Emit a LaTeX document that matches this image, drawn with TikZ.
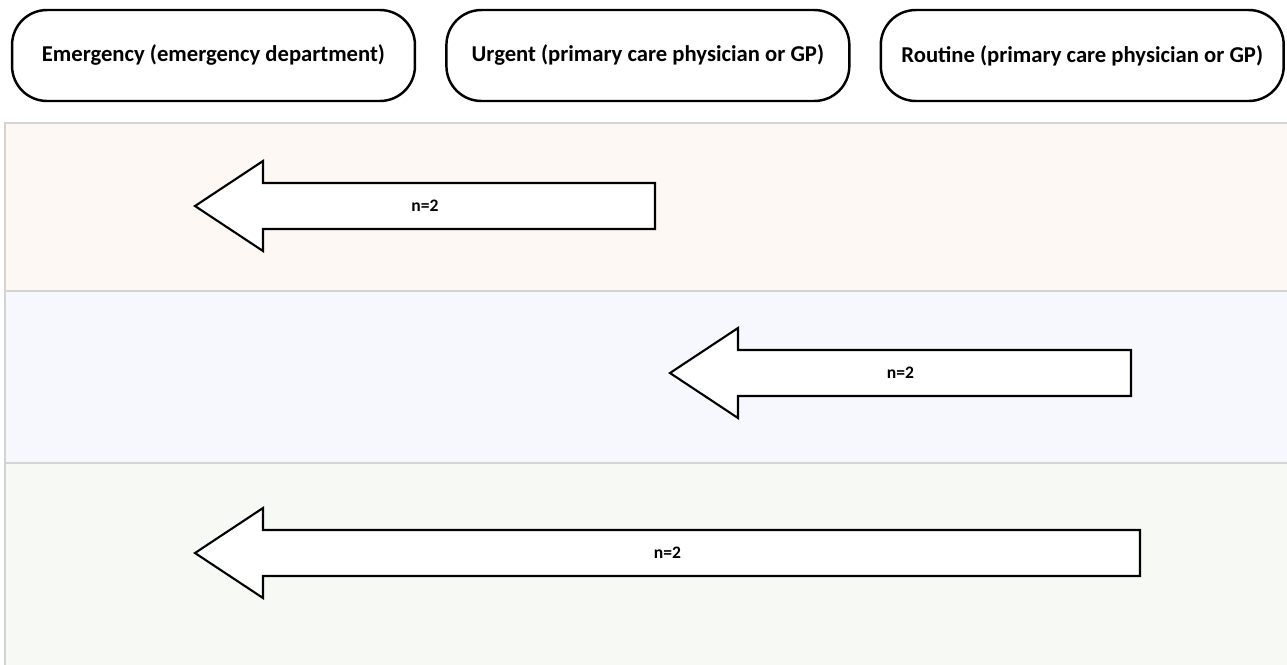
\documentclass[tikz,border=0pt]{standalone}
\usepackage{fontspec}
\setmainfont{Carlito}
\usetikzlibrary{positioning}

\definecolor{bandpeach}{HTML}{FEF8F4}
\definecolor{bandblue}{HTML}{F7F8FD}
\definecolor{bandgreen}{HTML}{F7FAF4}
\definecolor{bandline}{HTML}{D4D4D4}

\begin{document}
\begin{tikzpicture}[
x=0.02cm, y=-0.02cm,
every node/.style={
    font=\bfseries\fontsize{12.9}{15}\selectfont,
    },
pill/.style={
    draw,
    line width=1.4pt,
    rounded corners=0.7cm,
    minimum width=8.06cm,
    minimum height=1.82cm,
    },
band/.style={
    draw=bandline,
    line width=0.8pt,
    },
bigarrow/.style={
    draw,
    fill=white,
    line width=1.2pt,
    line join=miter,
    },
count/.style={
    font=\bfseries\fontsize{10}{12}\selectfont,
    },
]
\useasboundingbox (0,0) rectangle (1287,664);

% swimlanes
\draw[band, fill=bandpeach] (5,123) rectangle (1290,291);
\draw[band, fill=bandblue]  (5,291) rectangle (1290,463);
\draw[band, fill=bandgreen] (5,463) rectangle (1290,668);

% care levels
\node[pill] (emerg) at (213.5,55.5) {Emergency (emergency department)};
\node[pill] (urgent) [right=0.58cm of emerg] {Urgent (primary care physician or GP)};
\node[pill] (routine) [right=0.58cm of urgent] {Routine (primary care physician or GP)};

% referral arrows: tip / tail / centre line
\foreach \tip/\tail/\cy/\name in {195/655/206/first, 670/1131/373/second, 195/1140/553/third}{
  \draw[bigarrow] (\tip,\cy) -- (\tip+68,\cy-45) -- (\tip+68,\cy-23)
        -- (\tail,\cy-23) -- (\tail,\cy+23) -- (\tip+68,\cy+23)
        -- (\tip+68,\cy+45) -- cycle;
  \node[count] (\name) at ({(\tip+\tail)/2},\cy) {n=2};
}
\end{tikzpicture}
\end{document}
